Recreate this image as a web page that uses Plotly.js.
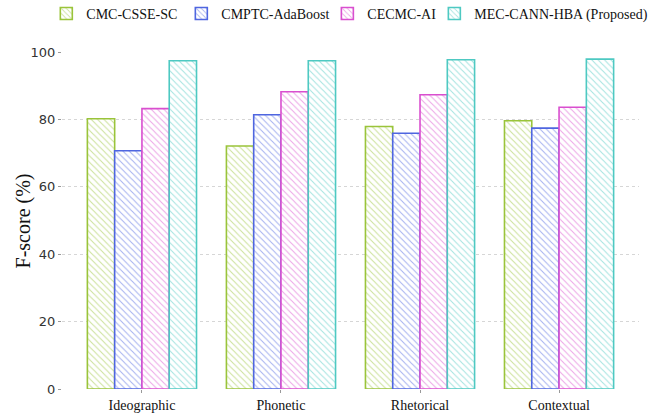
<!DOCTYPE html>
<html>
<head>
<meta charset="utf-8">
<script src="https://cdn.plot.ly/plotly-3.0.1.min.js"></script>
<style>html,body{margin:0;padding:0;background:#fff;}#chart{width:664px;height:416px;}</style>
</head>
<body>
<div id="chart"></div>
<script>
const categories = ["Ideographic", "Phonetic", "Rhetorical", "Contextual"];
const seriesNames = ["CMC-CSSE-SC", "CMPTC-AdaBoost", "CECMC-AI", "MEC-CANN-HBA (Proposed)"];
const cmcCsseSc = [80.2, 72.1, 77.9, 79.6];
const cmptcAdaBoost = [70.7, 81.4, 75.9, 77.4];
const cecmcAi = [83.2, 88.2, 87.3, 83.6];
const mecCannHba = [97.4, 97.4, 97.7, 97.9];
const yTicks = [0, 20, 40, 60, 80, 100];

const colors = ["#9ac43a", "#4f66e0", "#d94fcf", "#4ec9c2"];
const values = [cmcCsseSc, cmptcAdaBoost, cecmcAi, mecCannHba];
const legendIds = ["legend", "legend2", "legend3", "legend4"];
const legendX = [-0.0272, 0.2068, 0.4599, 0.6453];

const traces = values.map((v, i) => ({
  type: "bar",
  name: seriesNames[i],
  legend: legendIds[i],
  x: categories,
  y: v,
  marker: {
    color: "#ffffff",
    line: {color: colors[i], width: 1.6},
    pattern: {shape: "\\", fgcolor: colors[i], bgcolor: "#ffffff", size: 4.5, solidity: 0.24, fillmode: "overlay"}
  },
  hoverinfo: "skip"
}));

const layout = {
  width: 664, height: 416,
  margin: {l: 62, r: 25, t: 52, b: 27, pad: 0, autoexpand: false},
  paper_bgcolor: "#ffffff",
  plot_bgcolor: "#ffffff",
  barmode: "group",
  bargap: 0.215,
  bargroupgap: 0,
  showlegend: true,
  xaxis: {
    type: "category",
    range: [-0.575, 3.575],
    showline: false, showgrid: false, zeroline: false,
    ticks: "outside", ticklen: 3, tickcolor: "#999", tickwidth: 1,
    tickfont: {family: "Liberation Serif", size: 14, color: "#111"}
  },
  yaxis: {
    range: [0, 100],
    tickvals: yTicks,
    ticktext: yTicks.map(String),
    showline: false, zeroline: false,
    showgrid: true, gridcolor: "#d6d6d6", griddash: "dot", gridwidth: 1,
    ticks: "outside", ticklen: 3, tickcolor: "#999", tickwidth: 1,
    tickfont: {family: "DejaVu Sans", size: 13, color: "#333"}
  },
  annotations: [{
    text: "F-score (%)", xref: "paper", yref: "paper",
    x: -0.0659, y: 0.5, xanchor: "center", yanchor: "middle",
    textangle: -90, showarrow: false,
    font: {family: "Liberation Serif", size: 20, color: "#111"}
  }]
};

legendIds.forEach((id, i) => {
  layout[id] = {
    orientation: "h",
    x: legendX[i], xanchor: "left",
    y: 1.113, yanchor: "middle",
    font: {family: "Liberation Serif", size: 14, color: "#111"},
    bgcolor: "rgba(0,0,0,0)"
  };
});

Plotly.newPlot("chart", traces, layout, {displayModeBar: false, staticPlot: true});
</script>
</body>
</html>
